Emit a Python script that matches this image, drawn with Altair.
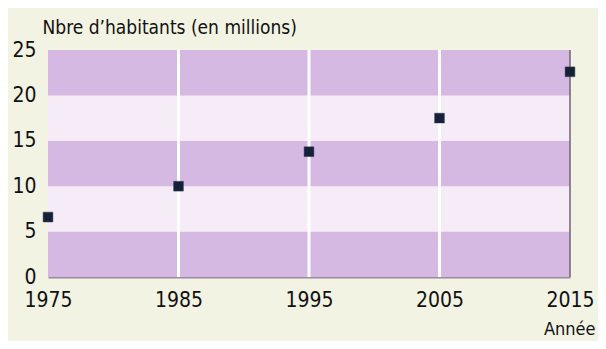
import altair as alt
import pandas as pd

# Data
years = [1975, 1985, 1995, 2005, 2015]
habitants = [6.6, 10.0, 13.8, 17.5, 22.6]

band_start = [0, 5, 10, 15, 20]
band_end = [5, 10, 15, 20, 25]
band_kind = ["fonce", "clair", "fonce", "clair", "fonce"]

y_ticks = [0, 5, 10, 15, 20, 25]
grid_years = [1985, 1995, 2005]

FONT = "DejaVu Sans Condensed, Liberation Sans Narrow, Roboto, sans-serif"

pts = pd.DataFrame({"annee": years, "hab": habitants})
bands = pd.DataFrame({"y0": band_start, "y1": band_end, "kind": band_kind,
                      "x0": [years[0]] * len(band_start), "x1": [years[-1]] * len(band_start)})
grid = pd.DataFrame({"annee": grid_years})
edge = pd.DataFrame({"annee": [years[-1]]})

xscale = alt.Scale(domain=[1975, 2015], nice=False, zero=False)
yscale = alt.Scale(domain=[0, 25], nice=False)

band_layer = alt.Chart(bands).mark_rect().encode(
    x=alt.X("x0:Q", scale=xscale,
            axis=alt.Axis(values=years, format="d", grid=False, ticks=False,
                          domain=True, domainColor="#9b8aa0", domainWidth=2,
                          labelFont=FONT, labelFontSize=21, labelColor="#111111",
                          labelPadding=12, labelFlush=False,
                          title="Année", titleFont=FONT, titleFontSize=18,
                          titleFontWeight="normal", titleColor="#111111",
                          titleX=547, titleY=57, titleAlign="right",
                          titleBaseline="alphabetic")),
    x2="x1:Q",
    y=alt.Y("y0:Q", scale=yscale,
            axis=alt.Axis(values=y_ticks, grid=False, ticks=False, domain=False,
                          labelFont=FONT, labelFontSize=21, labelColor="#111111",
                          labelPadding=12, labelBaseline="middle",
                          title="Nbre d’habitants (en millions)", titleFont=FONT,
                          titleFontSize=19, titleFontWeight="normal",
                          titleColor="#111111", titleAngle=0, titleX=-6, titleY=-17,
                          titleAlign="left", titleBaseline="alphabetic")),
    y2="y1:Q",
    color=alt.Color("kind:N", scale=alt.Scale(domain=["fonce", "clair"],
                                              range=["#d6b9e3", "#f6ecf7"]),
                    legend=None),
)

grid_layer = alt.Chart(grid).mark_rule(color="#ffffff", strokeWidth=3).encode(
    x=alt.X("annee:Q", scale=xscale),
)

edge_layer = alt.Chart(edge).mark_rule(color="#6f6475", strokeWidth=1.5).encode(
    x=alt.X("annee:Q", scale=xscale),
)

pt_layer = alt.Chart(pts).mark_square(size=95, color="#172039", opacity=1,
                                      stroke="#2a3a55", strokeWidth=0.5).encode(
    x=alt.X("annee:Q", scale=xscale),
    y=alt.Y("hab:Q", scale=yscale),
)

chart = alt.layer(band_layer, grid_layer, edge_layer, pt_layer).properties(
    width=522, height=227,
    autosize=alt.AutoSizeParams(type="none"),
    padding={"left": 40, "top": 42, "right": 28, "bottom": 64},
    background="#f3f3e4",
).configure_view(stroke=None)

chart.save("out.html", embed_options={"renderer": "svg", "actions": False})
